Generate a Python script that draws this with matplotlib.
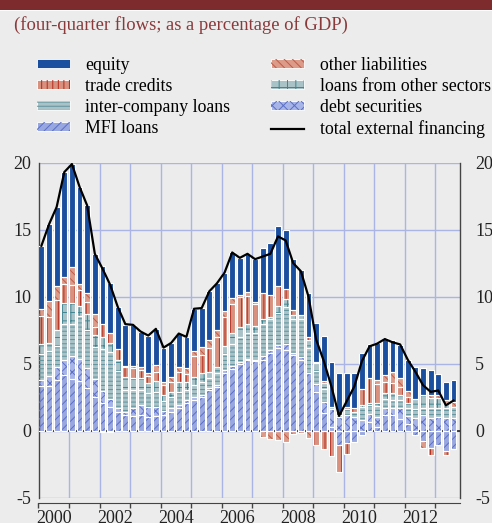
import numpy as np
import matplotlib
matplotlib.use("Agg")
import matplotlib.pyplot as plt
from matplotlib.patches import Patch, Rectangle
from matplotlib.lines import Line2D
from matplotlib.legend_handler import HandlerTuple

plt.rcParams['font.family'] = ['Liberation Serif', 'DejaVu Serif']
plt.rcParams['axes.unicode_minus'] = False
plt.rcParams['hatch.linewidth'] = 0.7

# quarterly data, 2000Q1 - 2013Q3 (four-quarter flows, % of GDP)
mfi_loans = [3.3, 3.35, 3.8, 4.15, 3.86, 3.73, 3.16, 2.54, 2.04, 1.79,
             1.42, 1.17, 1.1, 1.17, 1.05, 1.1, 1.17, 1.42, 1.67, 2.04,
             2.29, 2.54, 3.03, 3.28, 4.3, 4.58, 5.0, 5.27, 5.17, 5.3,
             5.8, 6.2, 6.0, 5.65, 5.27, 4.28, 2.9, 1.3, 0.3, -1.1,
             -0.9, -0.85, -0.3, 0.68, 0.3, 1.17, 1.17, 0.9, 0.5, -0.3,
             -0.8, -1.3, -1.1, -1.55, -1.4]
debt_securities = [0.5, 0.75, 0.95, 1.15, 1.7, 1.6, 1.5, 1.29, 0.94, 0.55,
                   0.3, 0.25, 0.57, 0.73, 0.75, 0.7, 0.33, 0.28, 0.23, 0.26,
                   0.21, 0.12, 0.17, 0.1, 0.2, 0.22, 0.15, 0.09, 0.1, 0.3,
                   0.2, 0.2, 0.47, 0.12, 0.25, 0.02, 0.6, 0.86, 1.3, 1.02,
                   1.2, 1.0, 0.8, 0.6, 0.75, 0.5, 0.5, 0.76, 0.6, 0.92,
                   1.17, 0.92, 1.05, 0.92, 0.92]
intercompany_loans = [1.95, 1.85, 1.55, 2.7, 2.4, 3.2, 2.85, 2.42, 3.1, 3.56,
                      2.7, 1.61, 1.36, 1.13, 0.98, 1.1, 0.74, 0.8, 0.96, 0.73,
                      0.9, 1.0, 0.7, 0.9, 1.2, 1.7, 1.85, 1.9, 1.99, 2.4,
                      2.3, 2.4, 2.78, 2.53, 2.78, 1.9, 0.95, 0.97, 0.2, 0.15,
                      0.4, 0.4, 0.95, 0.62, 0.8, 0.72, 0.62, 0.6, 0.6, 0.68,
                      0.5, 0.75, 0.61, 0.75, 0.87]
loans_other = [0.75, 0.6, 1.2, 1.5, 1.6, 0.75, 1.2, 0.9, 0.9, 0.65,
               0.85, 1.0, 0.87, 0.9, 0.8, 0.83, 0.42, 0.4, 0.8, 0.63,
               0.63, 0.62, 0.5, 0.5, 0.6, 0.76, 0.76, 0.74, 0.54, 0.3,
               0.2, 0.5, 0.55, 0.33, 0.33, 0.6, 0.6, 0.4, 0.0, 0.0,
               0.0, 0.0, 0.17, 0.2, 0.25, 0.4, 0.5, 0.4, 0.4, 0.8,
               1.0, 0.74, 0.75, 0.37, 0.0]
trade_credits = [2.05, 1.9, 2.25, 1.45, 1.35, 1.25, 0.9, 0.6, 1.0, 0.75,
                 0.8, 0.72, 0.75, 0.6, 0.5, 0.67, 0.74, 0.76, 0.74, 0.59,
                 1.54, 1.37, 1.74, 2.22, 2.16, 2.19, 2.19, 2.05, 1.63, 2.0,
                 1.6, 1.5, 0.75, 0.37, 0.0, 0.2, -1.1, -1.4, -1.9, -2.0,
                 -0.85, 0.3, 1.16, 1.8, 1.37, 0.86, 0.74, 0.62, 0.4, 0.0,
                 0.0, -0.5, 0.0, -0.25, 0.0]
other_liabilities = [0.5, 1.2, 1.05, 0.55, 1.3, 0.45, 0.65, 0.95, -0.1, -0.1,
                     0.0, 0.1, 0.2, 0.25, 0.2, 0.5, 0.26, 0.37, 0.38, 0.4,
                     0.4, 0.62, 0.66, 0.5, 0.5, 0.43, 0.15, 0.32, 0.2, -0.47,
                     -0.65, -0.72, -0.85, -0.22, -0.15, -0.55, 0.1, 0.2, 0.0, 0.0,
                     0.2, 0.0, 0.0, 0.0, 0.3, 0.5, 0.87, 0.62, 0.5, 0.0,
                     -0.5, 0.25, 0.25, 0.25, 0.37]
equity = [4.7, 5.75, 5.9, 7.8, 7.7, 7.2, 6.55, 4.5, 4.3, 3.7,
          3.18, 3.05, 3.05, 2.62, 2.8, 2.7, 2.54, 2.52, 2.47, 2.35,
          3.13, 2.88, 3.6, 3.5, 2.84, 3.42, 2.8, 2.83, 3.17, 3.3,
          3.9, 4.5, 4.45, 3.8, 3.37, 3.3, 2.91, 3.33, 3.35, 3.16,
          2.53, 2.58, 2.74, 2.57, 2.79, 2.75, 2.37, 2.5, 2.3, 2.37,
          1.99, 1.87, 1.54, 1.37, 1.62]
total_financing = [13.8, 15.4, 16.7, 19.3, 19.9, 18.2, 16.8, 13.2, 12.1, 10.9,
                   9.25, 7.95, 7.9, 7.4, 7.1, 7.6, 6.2, 6.55, 7.25, 7.0,
                   9.1, 9.15, 10.4, 11.0, 11.8, 13.3, 12.9, 13.2, 12.8, 13.0,
                   13.2, 14.5, 14.2, 12.5, 11.9, 10.0, 6.8, 5.2, 3.3, 1.1,
                   2.2, 3.3, 5.2, 6.3, 6.5, 6.84, 6.6, 6.44, 5.3, 4.4,
                   3.4, 2.9, 3.0, 1.9, 2.25]
year_labels = ['2000', '2002', '2004', '2006', '2008', '2010', '2012']

# (values, label, face colour, hatch, hatch colour) - bottom to top of the stack
series = [
    (mfi_loans, 'MFI loans', '#98a7e0', '////', '#5b6ec4'),
    (debt_securities, 'debt securities', '#a6b4e8', 'xxx', '#5b6ec4'),
    (intercompany_loans, 'inter-company loans', '#a9c2c7', '----', '#5d929c'),
    (loans_other, 'loans from other sectors', '#a9c2c7', '++', '#3f8592'),
    (trade_credits, 'trade credits', '#d8917f', '|||', '#b32a1c'),
    (other_liabilities, 'other liabilities', '#dc9b88', '\\\\\\\\', '#bf5a47'),
    (equity, 'equity', '#1a4f9f', None, None),
]

x = 2000 + 0.25 * np.arange(len(total_financing))
width = 0.19

fig = plt.figure(figsize=(4.92, 5.23), dpi=100)
fig.patch.set_facecolor('#ebeceb')

# header band
fig.add_artist(Rectangle((0, 1 - 9.5 / 523), 1, 9.5 / 523, transform=fig.transFigure,
                         facecolor='#7e2b2e', edgecolor='none'))
fig.add_artist(Rectangle((0, 1 - 11 / 523), 1, 1.5 / 523, transform=fig.transFigure,
                         facecolor='white', edgecolor='none'))
fig.text(14 / 492, 1 - 25.5 / 523, '(four-quarter flows; as a percentage of GDP)',
         fontsize=13.4, color='#8b3a3c', va='center', ha='left')

ax = fig.add_axes([38.5 / 492, 25.3 / 523, 421.3 / 492, 335 / 523])
ax.set_facecolor('none')

pos_bottom = np.zeros(len(x))
neg_bottom = np.zeros(len(x))
handles = []
for vals, label, face, hatch, hcol in series:
    v = np.array(vals)
    bottom = np.where(v >= 0, pos_bottom, neg_bottom)
    m = v != 0
    ax.bar(x[m], v[m], width, bottom=bottom[m], align='edge', color=face, lw=0, zorder=2)
    if hatch:
        ax.bar(x[m], v[m], width, bottom=bottom[m], align='edge', fill=False,
               hatch=hatch, edgecolor=hcol, lw=0, zorder=3)
    ax.bar(x[m], v[m], width, bottom=bottom[m], align='edge', fill=False,
           edgecolor='white', lw=0.8, zorder=4)
    pos_bottom += np.where(v > 0, v, 0)
    neg_bottom += np.where(v < 0, v, 0)
    if hatch:
        h = (Patch(facecolor=face, edgecolor='white', lw=0.6),
             Patch(fill=False, hatch=hatch, edgecolor=hcol, lw=0))
    else:
        h = Patch(facecolor=face, edgecolor='white', lw=0.6)
    handles.append((label, h))

ax.plot(x + width / 2, total_financing, color='black', lw=1.6, zorder=5)
ax.axhline(0, color='#222222', lw=1.2, zorder=1.5)

ax.set_xlim(2000, 2013.8)
ax.set_ylim(-5, 20)
ax.set_yticks([-5, 0, 5, 10, 15, 20])
ax.set_xticks(np.arange(2000, 2014))
ax.set_xticklabels([])
ax.set_xticks(np.arange(2000.5, 2013, 2), minor=True)
ax.set_xticklabels(year_labels, minor=True)
ax.grid(True, which='major', color='#aab5e6', lw=1.0, zorder=0)
ax.set_axisbelow(True)

ax.tick_params(axis='x', which='major', direction='out', length=3.5, color='#444444', width=1)
ax.tick_params(axis='x', which='minor', length=0, pad=5, labelsize=13, labelcolor='#222222')
ax.tick_params(axis='y', length=0, pad=5, labelsize=13, labelcolor='#222222')

for side in ['left', 'right']:
    ax.spines[side].set_color('#444444')
    ax.spines[side].set_linewidth(1.0)
ax.spines['top'].set_visible(False)
ax.spines['bottom'].set_position(('outward', 3.5))
ax.spines['bottom'].set_color('#444444')

ax2 = ax.twinx()
ax2.set_ylim(-5, 20)
ax2.set_yticks([-5, 0, 5, 10, 15, 20])
ax2.tick_params(axis='y', length=0, pad=11, labelsize=13, labelcolor='#222222')
for s in ax2.spines.values():
    s.set_visible(False)

order = ['equity', 'trade credits', 'inter-company loans', 'MFI loans',
         'other liabilities', 'loans from other sectors', 'debt securities']
hd = dict(handles)
leg_handles = [hd[k] for k in order] + [Line2D([], [], color='black', lw=1.6)]
leg_labels = order + ['total external financing']
fig.legend(leg_handles, leg_labels, loc='upper left', ncol=2,
           bbox_to_anchor=(36.7 / 492, 1 - 57 / 523), frameon=False,
           fontsize=12.8, handlelength=1.85, handleheight=0.4, handletextpad=0.88,
           columnspacing=2.3, labelspacing=0.23, borderpad=0, borderaxespad=0,
           handler_map={tuple: HandlerTuple(ndivide=1)})

fig.savefig('out.png', dpi=100, facecolor=fig.get_facecolor())
